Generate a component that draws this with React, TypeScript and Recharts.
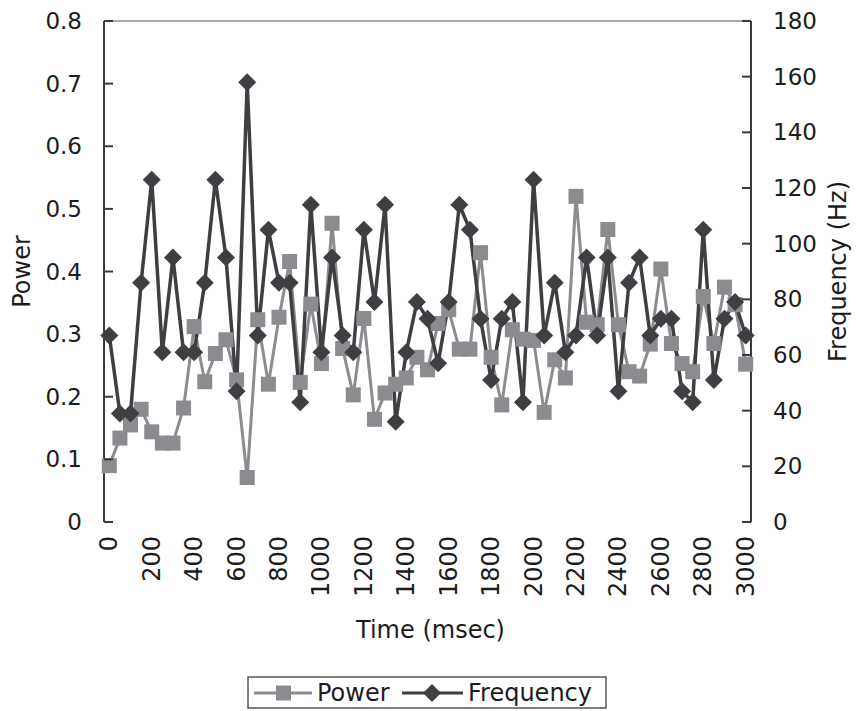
import { LineChart, Line, XAxis, YAxis, Legend, ReferenceLine } from "recharts";

// time stamps, one every 50 msec
const times: number[] = [];
for (let t = 0; t <= 3000; t += 50) times.push(t);

const power = [
  0.09, 0.134, 0.155, 0.18, 0.144, 0.126, 0.126, 0.182, 0.312, 0.224,
  0.269, 0.291, 0.227, 0.071, 0.323, 0.22, 0.327, 0.416, 0.223, 0.348,
  0.253, 0.477, 0.277, 0.203, 0.325, 0.164, 0.206, 0.22, 0.23, 0.263,
  0.243, 0.317, 0.339, 0.276, 0.276, 0.43, 0.263, 0.187, 0.307, 0.292,
  0.29, 0.175, 0.259, 0.23, 0.52, 0.319, 0.315, 0.467, 0.315, 0.24,
  0.233, 0.284, 0.404, 0.285, 0.253, 0.24, 0.36, 0.285, 0.375, 0.347,
  0.252,
];

const frequency = [
  67, 39, 39, 86, 123, 61, 95, 61, 61, 86,
  123, 95, 47, 158, 67, 105, 86, 86, 43, 114,
  61, 95, 67, 61, 105, 79, 114, 36, 61, 79,
  73, 57, 79, 114, 105, 73, 51, 73, 79, 43,
  123, 67, 86, 61, 67, 95, 67, 95, 47, 86,
  95, 67, 73, 73, 47, 43, 105, 51, 73, 79,
  67,
];

const timeLabels = [0, 200, 400, 600, 800, 1000, 1200, 1400, 1600, 1800, 2000, 2200, 2400, 2600, 2800, 3000];
const powerTicks = [0, 0.1, 0.2, 0.3, 0.4, 0.5, 0.6, 0.7, 0.8];
const freqTicks = [0, 20, 40, 60, 80, 100, 120, 140, 160, 180];
// minor tick marks sit between the samples
const boundaryTicks = times.slice(1).map((t) => t - 25);

const data = times.map((t, i) => ({ t, power: power[i], frequency: frequency[i] }));

const FONT = "'DejaVu Sans', sans-serif";
const TXT = "#1c1c1c";
const AXIS = "#3a3a3a";
const POWER_C = "#8c8c90";
const FREQ_C = "#3e3f42";

const fmtPower = (v: number) => (v === 0 ? "0" : v.toFixed(1));

const LeftTick = (props: any) => {
  const { x, y, payload } = props;
  return (
    <g>
      <line x1={x} x2={x + 9} y1={y} y2={y} stroke={AXIS} strokeWidth={2} />
      <text x={x - 22} y={y} textAnchor="end" dominantBaseline="central" fontSize={23} fontFamily={FONT} fill={TXT}>
        {fmtPower(payload.value)}
      </text>
    </g>
  );
};

const RightTick = (props: any) => {
  const { x, y, payload } = props;
  return (
    <g>
      <line x1={x} x2={x - 9} y1={y} y2={y} stroke={AXIS} strokeWidth={2} />
      <text x={x + 22} y={y} textAnchor="start" dominantBaseline="central" fontSize={23} fontFamily={FONT} fill={TXT}>
        {payload.value}
      </text>
    </g>
  );
};

const MarkTick = (props: any) => {
  const { x, y } = props;
  return <line x1={x} x2={x} y1={y} y2={y - 6} stroke={AXIS} strokeWidth={1.5} />;
};

const TimeTick = (props: any) => {
  const { x, y, payload } = props;
  return (
    <text
      transform={`translate(${x},${y + 14}) rotate(-90)`}
      textAnchor="end"
      dominantBaseline="central"
      fontSize={24}
      fontFamily={FONT}
      fill={TXT}
    >
      {payload.value}
    </text>
  );
};

const SquareDot = (props: any) => {
  const { cx, cy } = props;
  if (cx == null || cy == null) return null;
  return <rect x={cx - 7.5} y={cy - 7.5} width={15} height={15} fill={POWER_C} />;
};

const DiamondDot = (props: any) => {
  const { cx, cy } = props;
  if (cx == null || cy == null) return null;
  const r = 9;
  return <polygon points={`${cx},${cy - r} ${cx + r},${cy} ${cx},${cy + r} ${cx - r},${cy}`} fill={FREQ_C} />;
};

const LegendBox = () => (
  <svg width={360} height={33} style={{ display: "block" }}>
    <rect x={1} y={1} width={358} height={31} fill="#fff" stroke="#555" strokeWidth={1.5} />
    <line x1={7} x2={65} y1={17} y2={17} stroke={POWER_C} strokeWidth={3} />
    <rect x={29} y={9.5} width={15} height={15} fill={POWER_C} />
    <text x={70} y={17} dominantBaseline="central" fontSize={24} fontFamily={FONT} fill={TXT}>Power</text>
    <line x1={155} x2={216} y1={17} y2={17} stroke={FREQ_C} strokeWidth={3} />
    <polygon points="185,8 194,17 185,26 176,17" fill={FREQ_C} />
    <text x={221} y={17} dominantBaseline="central" fontSize={24} fontFamily={FONT} fill={TXT}>Frequency</text>
  </svg>
);

const PowerTitle = (props: any) => {
  const { x, y, height } = props.viewBox;
  const cx = x + 22;
  const cy = y + height / 2;
  return (
    <text transform={`translate(${cx},${cy}) rotate(-90)`} textAnchor="middle" dominantBaseline="central" fontSize={24} fontFamily={FONT} fill={TXT}>
      Power
    </text>
  );
};

const FreqTitle = (props: any) => {
  const { x, y, height } = props.viewBox;
  const cx = x + 87;
  const cy = y + height / 2;
  return (
    <text transform={`translate(${cx},${cy}) rotate(-90)`} textAnchor="middle" dominantBaseline="central" fontSize={24} fontFamily={FONT} fill={TXT}>
      Frequency (Hz)
    </text>
  );
};

const TimeTitle = (props: any) => {
  const { x, y, width } = props.viewBox;
  return (
    <text x={x + width / 2 + 3} y={y + 108} textAnchor="middle" dominantBaseline="central" fontSize={24} fontFamily={FONT} fill={TXT}>
      Time (msec)
    </text>
  );
};

export default function App() {
  return (
    <div style={{ position: "absolute", left: 0, top: 0, width: 856, height: 711, background: "#fff" }}>
      <LineChart width={856} height={711} data={data} margin={{ top: 21, right: 0, bottom: 59, left: 0 }}>
        <XAxis
          xAxisId="marks"
          dataKey="t"
          type="number"
          domain={[-25, 3025]}
          ticks={boundaryTicks}
          interval={0}
          height={0}
          tickSize={0}
          tickMargin={0}
          tickLine={false}
          tick={MarkTick}
          axisLine={{ stroke: AXIS, strokeWidth: 2 }}
        />
        <XAxis
          xAxisId="time"
          dataKey="t"
          type="number"
          domain={[-25, 3025]}
          ticks={timeLabels}
          interval={0}
          height={130}
          tickSize={0}
          tickMargin={0}
          tickLine={false}
          axisLine={false}
          tick={TimeTick}
          label={<TimeTitle />}
        />
        <YAxis
          yAxisId="p"
          orientation="left"
          domain={[0, 0.8]}
          ticks={powerTicks}
          interval={0}
          width={104}
          tickSize={0}
          tickMargin={0}
          tickLine={false}
          tick={LeftTick}
          axisLine={{ stroke: AXIS, strokeWidth: 2 }}
          label={<PowerTitle />}
        />
        <YAxis
          yAxisId="f"
          orientation="right"
          domain={[0, 180]}
          ticks={freqTicks}
          interval={0}
          width={105}
          tickSize={0}
          tickMargin={0}
          tickLine={false}
          tick={RightTick}
          axisLine={{ stroke: AXIS, strokeWidth: 2 }}
          label={<FreqTitle />}
        />
        <ReferenceLine xAxisId="time" yAxisId="p" y={0.8} stroke="#a8a8a8" strokeWidth={2} />
        <Legend
          layout="horizontal"
          verticalAlign="middle"
          align="center"
          content={<LegendBox />}
          wrapperStyle={{ left: 247, top: 676, width: 360, height: 33 }}
        />
        <Line
          xAxisId="time"
          yAxisId="p"
          dataKey="power"
          name="Power"
          stroke={POWER_C}
          strokeWidth={3}
          dot={<SquareDot />}
          activeDot={false}
          isAnimationActive={false}
        />
        <Line
          xAxisId="time"
          yAxisId="f"
          dataKey="frequency"
          name="Frequency"
          stroke={FREQ_C}
          strokeWidth={3.5}
          dot={<DiamondDot />}
          activeDot={false}
          isAnimationActive={false}
        />
      </LineChart>
    </div>
  );
}
